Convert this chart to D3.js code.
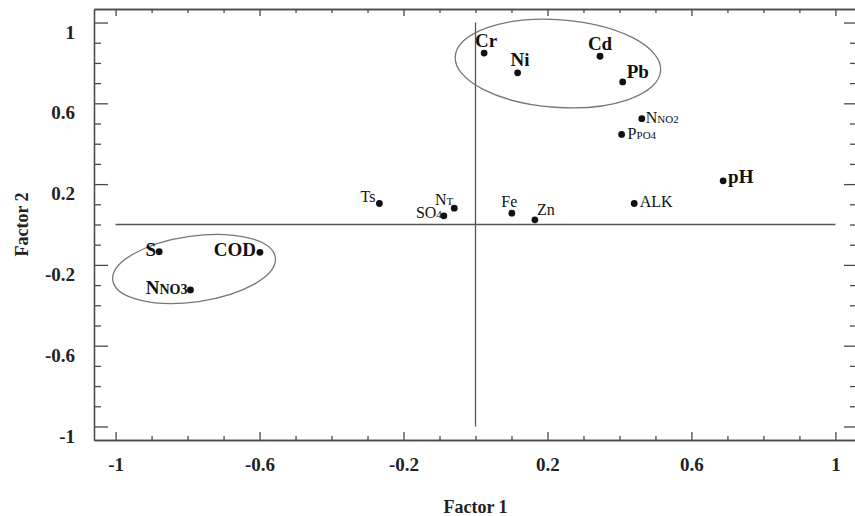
<!DOCTYPE html>
<html>
<head>
<meta charset="utf-8">
<script src="https://cdn.jsdelivr.net/npm/d3@7"></script>
<style>
body { margin:0; background:#fff; }
svg { display:block; font-family:"Liberation Serif","Times New Roman",serif; }
</style>
</head>
<body>
<div id="chart-area"></div>
<script>
// variables and their loadings on the two factors
var names   = ["Cr", "Ni", "Cd", "Pb", "NNO2", "PPO4", "pH", "ALK", "Ts", "NT", "SO4", "Fe", "Zn", "S", "COD", "NNO3"];
var labelMain = ["Cr", "Ni", "Cd", "Pb", "N", "P", "pH", "ALK", "Ts", "N", "SO", "Fe", "Zn", "S", "COD", "N"];
var labelSub  = ["", "", "", "", "NO2", "PO4", "", "", "", "T", "4", "", "", "", "", "NO3"];
var factor1 = [0.024, 0.117, 0.346, 0.409, 0.462, 0.406, 0.688, 0.441, -0.267, -0.059, -0.088, 0.101, 0.165, -0.879, -0.599, -0.792];
var factor2 = [0.849, 0.751, 0.833, 0.706, 0.524, 0.446, 0.216, 0.104, 0.104, 0.081, 0.043, 0.056, 0.023, -0.135, -0.138, -0.324];
var boldNames = ["Cr", "Ni", "Cd", "Pb", "pH", "S", "COD", "NNO3"];

// the two groups that are circled
var groupCx = [0.229, -0.782];
var groupCy = [0.797, -0.220];
var groupRx = [0.286, 0.228];
var groupRy = [0.217, 0.163];
var groupAngle = [4, -8];

var tickLabels = [-1, -0.6, -0.2, 0.2, 0.6, 1];
var minorTicks = [-0.9, -0.8, -0.7, -0.5, -0.4, -0.3, -0.1, 0, 0.1, 0.3, 0.4, 0.5, 0.7, 0.8, 0.9];

// label placement next to each dot: [anchor, dx, dy]
var labelPos = {
	"Cr": ["middle", 2, -6], "Ni": ["middle", 2.5, -6.6], "Cd": ["middle", 0, -6], "Pb": ["start", 4, -4],
	"NNO2": ["start", 4, 4.7], "PPO4": ["start", 6, 5], "pH": ["start", 5, 2], "ALK": ["start", 5.5, 4],
	"Ts": ["end", -4, -1], "NT": ["end", -1, -3], "SO4": ["end", -2, 2], "Fe": ["middle", -2.5, -6.3],
	"Zn": ["start", 2, -4.7], "S": ["end", -3, 4], "COD": ["end", -4, 3.4], "NNO3": ["end", -3, 4]
};

var margin = { top: 9, right: -2, bottom: 76, left: 94 };
var width = 855 - margin.left - margin.right;
var height = 516 - margin.top - margin.bottom;

var svg = d3.select("#chart-area")
	.append("svg")
		.attr("width", 855)
		.attr("height", 516);
var g = svg.append("g")
	.attr("transform", "translate(" + margin.left + "," + margin.top + ")");

var x = d3.scaleLinear().domain([-1.06, 1.06]).range([0, width]);
var y = d3.scaleLinear().domain([-1.067, 1.067]).range([height, 0]);

var lineColor = "#4a4a4a";
var fmt = function(d){ return String(d); };

function styleAxis(sel){
	sel.selectAll("path, line").attr("stroke", lineColor).attr("stroke-width", 1.3);
	sel.selectAll("text")
		.attr("fill", "#222")
		.attr("font-family", "Liberation Serif, serif")
		.attr("font-size", "19px")
		.attr("font-weight", "bold");
}

// left axis
var leftMajor = g.append("g").attr("class", "left axis")
	.call(d3.axisLeft(y).tickValues(tickLabels).tickSize(-14).tickSizeOuter(0).tickPadding(19).tickFormat(fmt));
styleAxis(leftMajor);
leftMajor.selectAll("text").attr("y", 9.5);
var leftMinor = g.append("g")
	.call(d3.axisLeft(y).tickValues(minorTicks).tickSize(-7).tickSizeOuter(0).tickFormat(""));
styleAxis(leftMinor);

// bottom axis
var bottomMajor = g.append("g").attr("class", "bottom axis")
	.attr("transform", "translate(0," + height + ")")
	.call(d3.axisBottom(x).tickValues(tickLabels).tickSize(-8).tickSizeOuter(0).tickPadding(18).tickFormat(fmt));
styleAxis(bottomMajor);
var bottomMinor = g.append("g")
	.attr("transform", "translate(0," + height + ")")
	.call(d3.axisBottom(x).tickValues(minorTicks).tickSize(-4).tickSizeOuter(0).tickFormat(""));
styleAxis(bottomMinor);

// top and right: ticks only
var topMajor = g.append("g")
	.call(d3.axisTop(x).tickValues(tickLabels).tickSize(-7).tickSizeOuter(0).tickFormat(""));
styleAxis(topMajor);
var topMinor = g.append("g")
	.call(d3.axisTop(x).tickValues(minorTicks).tickSize(-4).tickSizeOuter(0).tickFormat(""));
styleAxis(topMinor);
var rightMajor = g.append("g")
	.attr("transform", "translate(" + width + ",0)")
	.call(d3.axisRight(y).tickValues(tickLabels).tickSize(-13).tickSizeOuter(0).tickFormat(""));
styleAxis(rightMajor);
var rightMinor = g.append("g")
	.attr("transform", "translate(" + width + ",0)")
	.call(d3.axisRight(y).tickValues(minorTicks).tickSize(-7).tickSizeOuter(0).tickFormat(""));
styleAxis(rightMinor);

// zero cross
g.append("line")
	.attr("x1", x(-1)).attr("x2", x(1))
	.attr("y1", y(0)).attr("y2", y(0))
	.attr("stroke", "#555").attr("stroke-width", 1.3);
g.append("line")
	.attr("x1", x(0)).attr("x2", x(0))
	.attr("y1", y(1)).attr("y2", y(-1))
	.attr("stroke", "#555").attr("stroke-width", 1.3);

// group ellipses
g.selectAll("ellipse")
	.data(groupCx)
	.enter()
	.append("ellipse")
		.attr("transform", function(d, i){
			return "translate(" + x(d) + "," + y(groupCy[i]) + ") rotate(" + groupAngle[i] + ")";
		})
		.attr("rx", function(d, i){ return x(groupRx[i]) - x(0); })
		.attr("ry", function(d, i){ return y(0) - y(groupRy[i]); })
		.attr("fill", "none")
		.attr("stroke", "#777")
		.attr("stroke-width", 1.3);

// dots
g.selectAll("circle")
	.data(names)
	.enter()
	.append("circle")
		.attr("cx", function(d, i){ return x(factor1[i]); })
		.attr("cy", function(d, i){ return y(factor2[i]); })
		.attr("r", 3.4)
		.attr("fill", "#111");

// labels
var labels = g.selectAll("text.point")
	.data(names)
	.enter()
	.append("text")
		.attr("class", "point")
		.attr("x", function(d, i){ return x(factor1[i]) + labelPos[d][1]; })
		.attr("y", function(d, i){ return y(factor2[i]) + labelPos[d][2]; })
		.attr("text-anchor", function(d){ return labelPos[d][0]; })
		.attr("font-weight", function(d){ return boldNames.indexOf(d) >= 0 ? "bold" : "normal"; })
		.attr("font-size", function(d){ return boldNames.indexOf(d) >= 0 ? "19px" : "16px"; })
		.attr("fill", "#111");
labels.append("tspan")
	.text(function(d, i){ return labelMain[i]; });
labels.append("tspan")
	.attr("font-size", function(d){ return boldNames.indexOf(d) >= 0 ? "14px" : "11px"; })
	.text(function(d, i){ return labelSub[i]; });

// axis titles
g.append("text")
	.attr("x", x(0))
	.attr("y", height + 73)
	.attr("text-anchor", "middle")
	.attr("font-size", "18px")
	.attr("font-weight", "bold")
	.attr("fill", "#222")
	.text("Factor 1");

g.append("text")
	.attr("transform", "rotate(-90)")
	.attr("x", -y(0))
	.attr("y", -66)
	.attr("text-anchor", "middle")
	.attr("font-size", "18px")
	.attr("font-weight", "bold")
	.attr("fill", "#222")
	.text("Factor 2");
</script>
</body>
</html>
